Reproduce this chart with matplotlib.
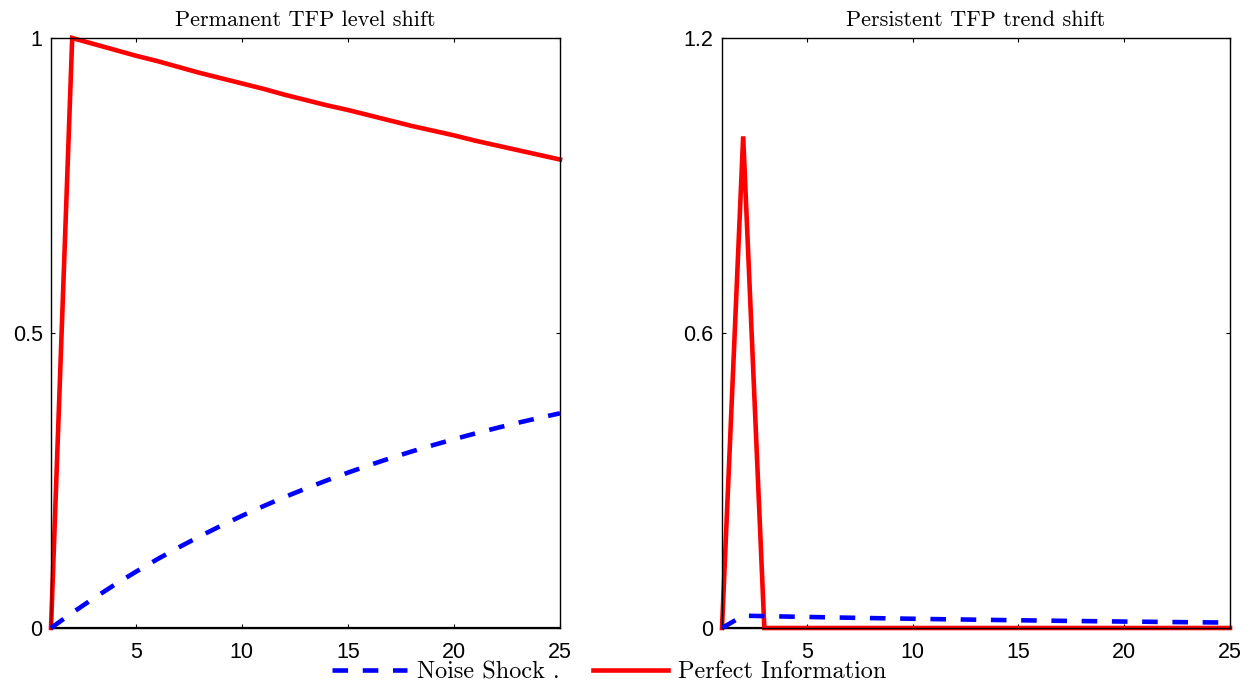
import matplotlib
matplotlib.use("Agg")
import matplotlib.pyplot as plt

# ---- data ----
periods = list(range(1, 26))

level_noise = [0.0, 0.0257, 0.0501, 0.0733, 0.0953, 0.1163, 0.1362, 0.1551, 0.1730,
               0.1901, 0.2063, 0.2217, 0.2362, 0.2501, 0.2633, 0.2759, 0.2878, 0.2991,
               0.3098, 0.3200, 0.3297, 0.3389, 0.3477, 0.3560, 0.3639]
level_perfect = [0.0, 1.0, 0.990, 0.980, 0.970, 0.961, 0.951, 0.941, 0.932, 0.923,
                 0.914, 0.904, 0.895, 0.886, 0.878, 0.869, 0.860, 0.851, 0.843, 0.835,
                 0.826, 0.818, 0.810, 0.802, 0.794]

trend_noise = [0.0, 0.0250, 0.0242, 0.0233, 0.0225, 0.0217, 0.0209, 0.0202, 0.0195,
               0.0188, 0.0181, 0.0175, 0.0169, 0.0163, 0.0157, 0.0152, 0.0146, 0.0141,
               0.0136, 0.0131, 0.0127, 0.0122, 0.0118, 0.0114, 0.0110]
trend_perfect = [0.0, 1.0] + [0.0] * 23

titles = ["Permanent TFP level shift", "Persistent TFP trend shift"]
series_labels = ["Noise Shock .", "Perfect Information"]
xticks = [5, 10, 15, 20, 25]
yticks_left = [0, 0.5, 1]
yticklabels_left = ["0", "0.5", "1"]
yticks_right = [0, 0.6, 1.2]
yticklabels_right = ["0", "0.6", "1.2"]

# ---- figure ----
W, H = 1255, 686
fig = plt.figure(figsize=(W / 100, H / 100), dpi=100)

serif = "cmr10"
sans = ["Liberation Sans", "DejaVu Sans"]

ax1 = fig.add_axes([51 / W, 1 - 628 / H, (560 - 51) / W, (628 - 38) / H])
ax2 = fig.add_axes([722 / W, 1 - 628 / H, (1230 - 722) / W, (628 - 38) / H])

lw = 3.3
handles = None
for ax, noise, perf, title, yt, ytl, ymax in [
    (ax1, level_noise, level_perfect, titles[0], yticks_left, yticklabels_left, 1.0),
    (ax2, trend_noise, trend_perfect, titles[1], yticks_right, yticklabels_right, 1.2),
]:
    ax.axhline(0, color="black", lw=1.6, zorder=1)
    h1, = ax.plot(periods, noise, color="#0000ff", lw=lw, dashes=[3.4, 3.2],
                  dash_capstyle="butt", label=series_labels[0], zorder=3,
                  clip_on=False)
    h2, = ax.plot(periods, perf, color="#ff0000", lw=lw, label=series_labels[1],
                  zorder=2, solid_joinstyle="miter", clip_on=False)
    handles = [h1, h2]
    ax.set_xlim(1, 25)
    ax.set_ylim(0, ymax)
    ax.set_xticks(xticks)
    ax.set_xticklabels([str(v) for v in xticks], family=sans, fontsize=15.5)
    ax.set_yticks(yt)
    ax.set_yticklabels(ytl, family=sans, fontsize=15.5)
    ax.tick_params(axis="both", direction="in", length=3, width=0.8,
                   top=True, right=True)
    ax.tick_params(axis="x", pad=10)
    ax.tick_params(axis="y", pad=6)
    for s in ax.spines.values():
        s.set_linewidth(1.0)
        s.set_color("black")
    ax.set_title(title, family=serif, fontsize=16, pad=9)

fig.legend(handles, series_labels, loc="center", ncol=2,
           bbox_to_anchor=(609 / W, 1 - 672 / H), frameon=False,
           prop={"family": serif, "size": 17.5}, handlelength=3.1,
           handletextpad=0.4, columnspacing=1.35, borderpad=0.1)

fig.savefig("out.png", dpi=100)
